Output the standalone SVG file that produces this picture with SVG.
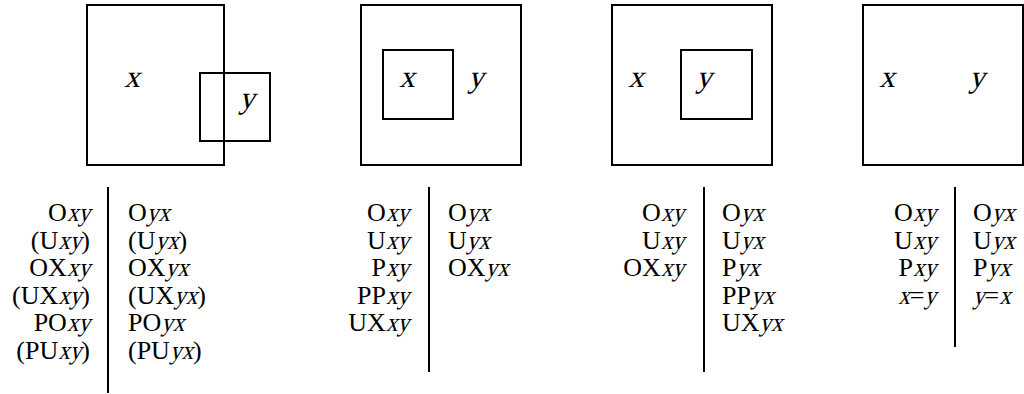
<svg xmlns="http://www.w3.org/2000/svg" width="1024" height="394" viewBox="0 0 1024 394">
<style>
.box{fill:none;stroke:#000;stroke-width:2}
.sep{stroke:#000;stroke-width:2}
text{font-family:'Liberation Serif','DejaVu Serif',serif;fill:#000;font-size:26px}
.lbl{font-size:31px;text-anchor:middle}
.r{text-anchor:end}
</style>
<rect width="1024" height="394" fill="#fff"/>
<g id="panel1">
<rect class="box" x="87" y="5" width="137" height="160"/>
<rect class="box" x="200" y="73" width="70" height="68"/>
<text class="lbl" transform="translate(132,87) skewX(-14)">x</text>
<text class="lbl" transform="translate(247,108) skewX(-14)">y</text>
</g>
<g id="panel2">
<rect class="box" x="361" y="5" width="160" height="160"/>
<rect class="box" x="383" y="50" width="70" height="69"/>
<text class="lbl" transform="translate(407,87) skewX(-14)">x</text>
<text class="lbl" transform="translate(476,87) skewX(-14)">y</text>
</g>
<g id="panel3">
<rect class="box" x="612" y="5" width="160" height="160"/>
<rect class="box" x="681" y="50" width="71" height="69"/>
<text class="lbl" transform="translate(636,87) skewX(-14)">x</text>
<text class="lbl" transform="translate(704,87) skewX(-14)">y</text>
</g>
<g id="panel4">
<rect class="box" x="863" y="5" width="160" height="160"/>
<text class="lbl" transform="translate(887,87) skewX(-14)">x</text>
<text class="lbl" transform="translate(977,87) skewX(-14)">y</text>
</g>
<g id="connectors">
<line class="sep" x1="108" y1="187" x2="108" y2="393"/>
<line class="sep" x1="429" y1="187" x2="429" y2="372"/>
<line class="sep" x1="704" y1="187" x2="704" y2="372"/>
<line class="sep" x1="955" y1="187" x2="955" y2="347"/>
</g>
<g id="list1">
<text class="r" x="66.9" y="221">O</text>
<text transform="translate(66.9,221) skewX(-14)" textLength="23.1" lengthAdjust="spacingAndGlyphs">xy</text>
<text class="r" x="58.2" y="248.5">(U</text>
<text transform="translate(58.2,248.5) skewX(-14)" textLength="23.1" lengthAdjust="spacingAndGlyphs">xy</text>
<text class="r" x="90" y="248.5">)</text>
<text class="r" x="66.9" y="276">OX</text>
<text transform="translate(66.9,276) skewX(-14)" textLength="23.1" lengthAdjust="spacingAndGlyphs">xy</text>
<text class="r" x="58.2" y="303.5">(UX</text>
<text transform="translate(58.2,303.5) skewX(-14)" textLength="23.1" lengthAdjust="spacingAndGlyphs">xy</text>
<text class="r" x="90" y="303.5">)</text>
<text class="r" x="66.9" y="331">PO</text>
<text transform="translate(66.9,331) skewX(-14)" textLength="23.1" lengthAdjust="spacingAndGlyphs">xy</text>
<text class="r" x="58.2" y="358.5">(PU</text>
<text transform="translate(58.2,358.5) skewX(-14)" textLength="23.1" lengthAdjust="spacingAndGlyphs">xy</text>
<text class="r" x="90" y="358.5">)</text>

<text x="128" y="221">O</text>
<text transform="translate(146.8,221) skewX(-14)" textLength="23.1" lengthAdjust="spacingAndGlyphs">yx</text>
<text x="128" y="248.5">(U</text>
<text transform="translate(155.4,248.5) skewX(-14)" textLength="23.1" lengthAdjust="spacingAndGlyphs">yx</text>
<text x="178.5" y="248.5">)</text>
<text x="128" y="276">OX</text>
<text transform="translate(165.5,276) skewX(-14)" textLength="23.1" lengthAdjust="spacingAndGlyphs">yx</text>
<text x="128" y="303.5">(UX</text>
<text transform="translate(174.2,303.5) skewX(-14)" textLength="23.1" lengthAdjust="spacingAndGlyphs">yx</text>
<text x="197.3" y="303.5">)</text>
<text x="128" y="331">PO</text>
<text transform="translate(161.2,331) skewX(-14)" textLength="23.1" lengthAdjust="spacingAndGlyphs">yx</text>
<text x="128" y="358.5">(PU</text>
<text transform="translate(169.9,358.5) skewX(-14)" textLength="23.1" lengthAdjust="spacingAndGlyphs">yx</text>
<text x="193" y="358.5">)</text>
</g>
<g id="list2">
<text class="r" x="385.9" y="221">O</text>
<text transform="translate(385.9,221) skewX(-14)" textLength="23.1" lengthAdjust="spacingAndGlyphs">xy</text>
<text class="r" x="385.9" y="248.5">U</text>
<text transform="translate(385.9,248.5) skewX(-14)" textLength="23.1" lengthAdjust="spacingAndGlyphs">xy</text>
<text class="r" x="385.9" y="276">P</text>
<text transform="translate(385.9,276) skewX(-14)" textLength="23.1" lengthAdjust="spacingAndGlyphs">xy</text>
<text class="r" x="385.9" y="303.5">PP</text>
<text transform="translate(385.9,303.5) skewX(-14)" textLength="23.1" lengthAdjust="spacingAndGlyphs">xy</text>
<text class="r" x="385.9" y="331">UX</text>
<text transform="translate(385.9,331) skewX(-14)" textLength="23.1" lengthAdjust="spacingAndGlyphs">xy</text>
<text x="448" y="221">O</text>
<text transform="translate(466.8,221) skewX(-14)" textLength="23.1" lengthAdjust="spacingAndGlyphs">yx</text>
<text x="448" y="248.5">U</text>
<text transform="translate(466.8,248.5) skewX(-14)" textLength="23.1" lengthAdjust="spacingAndGlyphs">yx</text>
<text x="448" y="276">OX</text>
<text transform="translate(485.5,276) skewX(-14)" textLength="23.1" lengthAdjust="spacingAndGlyphs">yx</text>
</g>
<g id="list3">
<text class="r" x="660.9" y="221">O</text>
<text transform="translate(660.9,221) skewX(-14)" textLength="23.1" lengthAdjust="spacingAndGlyphs">xy</text>
<text class="r" x="660.9" y="248.5">U</text>
<text transform="translate(660.9,248.5) skewX(-14)" textLength="23.1" lengthAdjust="spacingAndGlyphs">xy</text>
<text class="r" x="660.9" y="276">OX</text>
<text transform="translate(660.9,276) skewX(-14)" textLength="23.1" lengthAdjust="spacingAndGlyphs">xy</text>
<text x="722" y="221">O</text>
<text transform="translate(740.8,221) skewX(-14)" textLength="23.1" lengthAdjust="spacingAndGlyphs">yx</text>
<text x="722" y="248.5">U</text>
<text transform="translate(740.8,248.5) skewX(-14)" textLength="23.1" lengthAdjust="spacingAndGlyphs">yx</text>
<text x="722" y="276">P</text>
<text transform="translate(736.5,276) skewX(-14)" textLength="23.1" lengthAdjust="spacingAndGlyphs">yx</text>
<text x="722" y="303.5">PP</text>
<text transform="translate(750.9,303.5) skewX(-14)" textLength="23.1" lengthAdjust="spacingAndGlyphs">yx</text>
<text x="722" y="331">UX</text>
<text transform="translate(759.5,331) skewX(-14)" textLength="23.1" lengthAdjust="spacingAndGlyphs">yx</text>
</g>
<g id="list4">
<text class="r" x="912.9" y="221">O</text>
<text transform="translate(912.9,221) skewX(-14)" textLength="23.1" lengthAdjust="spacingAndGlyphs">xy</text>
<text class="r" x="912.9" y="248.5">U</text>
<text transform="translate(912.9,248.5) skewX(-14)" textLength="23.1" lengthAdjust="spacingAndGlyphs">xy</text>
<text class="r" x="912.9" y="276">P</text>
<text transform="translate(912.9,276) skewX(-14)" textLength="23.1" lengthAdjust="spacingAndGlyphs">xy</text>
<text transform="translate(898.2,303.5) skewX(-14)" textLength="11.5" lengthAdjust="spacingAndGlyphs">x</text>
<text x="909.8" y="303.5">=</text>
<text transform="translate(924.4,303.5) skewX(-14)" textLength="11.5" lengthAdjust="spacingAndGlyphs">y</text>
<text x="973" y="221">O</text>
<text transform="translate(991.8,221) skewX(-14)" textLength="23.1" lengthAdjust="spacingAndGlyphs">yx</text>
<text x="973" y="248.5">U</text>
<text transform="translate(991.8,248.5) skewX(-14)" textLength="23.1" lengthAdjust="spacingAndGlyphs">yx</text>
<text x="973" y="276">P</text>
<text transform="translate(987.5,276) skewX(-14)" textLength="23.1" lengthAdjust="spacingAndGlyphs">yx</text>
<text transform="translate(973,303.5) skewX(-14)" textLength="11.5" lengthAdjust="spacingAndGlyphs">y</text>
<text x="984.5" y="303.5">=</text>
<text transform="translate(999.2,303.5) skewX(-14)" textLength="11.5" lengthAdjust="spacingAndGlyphs">x</text>
</g>
</svg>
